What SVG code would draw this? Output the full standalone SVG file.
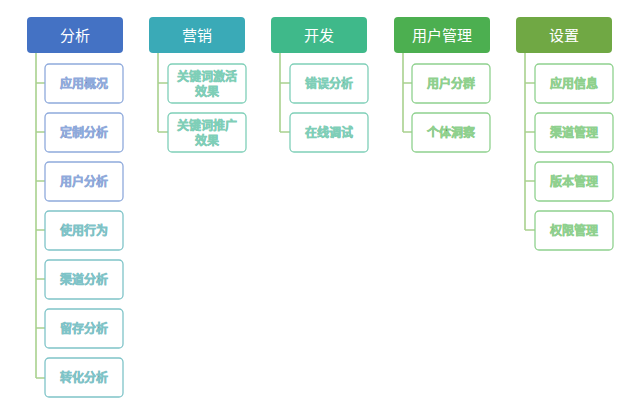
<svg xmlns="http://www.w3.org/2000/svg" width="640" height="410" viewBox="0 0 640 410">
<style>
.h{stroke:none}
.ht{font-family:"Liberation Sans","Noto Sans CJK SC",sans-serif;font-size:15px;fill:#fff;text-anchor:middle}
.c{fill:#fff;stroke-width:1.3}
.ct{font-family:"Liberation Sans","Noto Sans CJK SC",sans-serif;font-size:12px;fill:#222;text-anchor:middle}
.l{stroke:#a9d18e;stroke-width:1.6;fill:none}
</style>
<rect width="640" height="410" fill="#fff"/>
<g id="connectors">
<path class="l" d="M36 53V378M36 83H45M36 132H45M36 181H45M36 230H45M36 279H45M36 328H45M36 378H45"/>
<path class="l" d="M158 53V132M158 83H168M158 132H168"/>
<path class="l" d="M280 53V132M280 83H290M280 132H290"/>
<path class="l" d="M403 53V132M403 83H412M403 132H412"/>
<path class="l" d="M525 53V230M525 83H535M525 132H535M525 181H535M525 230H535"/>
</g>
<g id="h1"><rect class="h" x="27" y="17" width="96" height="36" rx="4" fill="#4472c4"/><text class="ht" x="75" y="41">分析</text></g>
<g id="h2"><rect class="h" x="149" y="17" width="96" height="36" rx="4" fill="#3aaab7"/><text class="ht" x="197" y="41">营销</text></g>
<g id="h3"><rect class="h" x="271" y="17" width="96" height="36" rx="4" fill="#3fb98a"/><text class="ht" x="319" y="41">开发</text></g>
<g id="h4"><rect class="h" x="394" y="17" width="96" height="36" rx="4" fill="#4caf50"/><text class="ht" x="442" y="41">用户管理</text></g>
<g id="h5"><rect class="h" x="516" y="17" width="96" height="36" rx="4" fill="#70a844"/><text class="ht" x="564" y="41">设置</text></g>
<g stroke="#8faadc">
<g id="a1"><rect class="c" x="45" y="64" width="78" height="39" rx="4"/><text class="ct" x="84" y="88">应用概况</text></g>
<g id="a2"><rect class="c" x="45" y="113" width="78" height="39" rx="4"/><text class="ct" x="84" y="137">定制分析</text></g>
<g id="a3"><rect class="c" x="45" y="162" width="78" height="39" rx="4"/><text class="ct" x="84" y="186">用户分析</text></g>
</g>
<g stroke="#7fc4c8">
<g id="a4"><rect class="c" x="45" y="211" width="78" height="39" rx="4"/><text class="ct" x="84" y="235">使用行为</text></g>
<g id="a5"><rect class="c" x="45" y="260" width="78" height="39" rx="4"/><text class="ct" x="84" y="284">渠道分析</text></g>
<g id="a6"><rect class="c" x="45" y="309" width="78" height="39" rx="4"/><text class="ct" x="84" y="333">留存分析</text></g>
<g id="a7"><rect class="c" x="45" y="358" width="78" height="39" rx="4"/><text class="ct" x="84" y="382">转化分析</text></g>
</g>
<g stroke="#7fcfb8">
<g id="b1"><rect class="c" x="168" y="64" width="78" height="39" rx="4"/><text class="ct" x="207" y="81">关键词激活</text><text class="ct" x="207" y="96">效果</text></g>
<g id="b2"><rect class="c" x="168" y="113" width="78" height="39" rx="4"/><text class="ct" x="207" y="130">关键词推广</text><text class="ct" x="207" y="145">效果</text></g>
<g id="c1"><rect class="c" x="290" y="64" width="78" height="39" rx="4"/><text class="ct" x="329" y="88">错误分析</text></g>
<g id="c2"><rect class="c" x="290" y="113" width="78" height="39" rx="4"/><text class="ct" x="329" y="137">在线调试</text></g>
</g>
<g stroke="#8fd18e">
<g id="d1"><rect class="c" x="412" y="64" width="78" height="39" rx="4"/><text class="ct" x="451" y="88">用户分群</text></g>
<g id="d2"><rect class="c" x="412" y="113" width="78" height="39" rx="4"/><text class="ct" x="451" y="137">个体洞察</text></g>
<g id="e1"><rect class="c" x="535" y="64" width="78" height="39" rx="4"/><text class="ct" x="574" y="88">应用信息</text></g>
<g id="e2"><rect class="c" x="535" y="113" width="78" height="39" rx="4"/><text class="ct" x="574" y="137">渠道管理</text></g>
<g id="e3"><rect class="c" x="535" y="162" width="78" height="39" rx="4"/><text class="ct" x="574" y="186">版本管理</text></g>
<g id="e4"><rect class="c" x="535" y="211" width="78" height="39" rx="4"/><text class="ct" x="574" y="235">权限管理</text></g>
</g>
</svg>
